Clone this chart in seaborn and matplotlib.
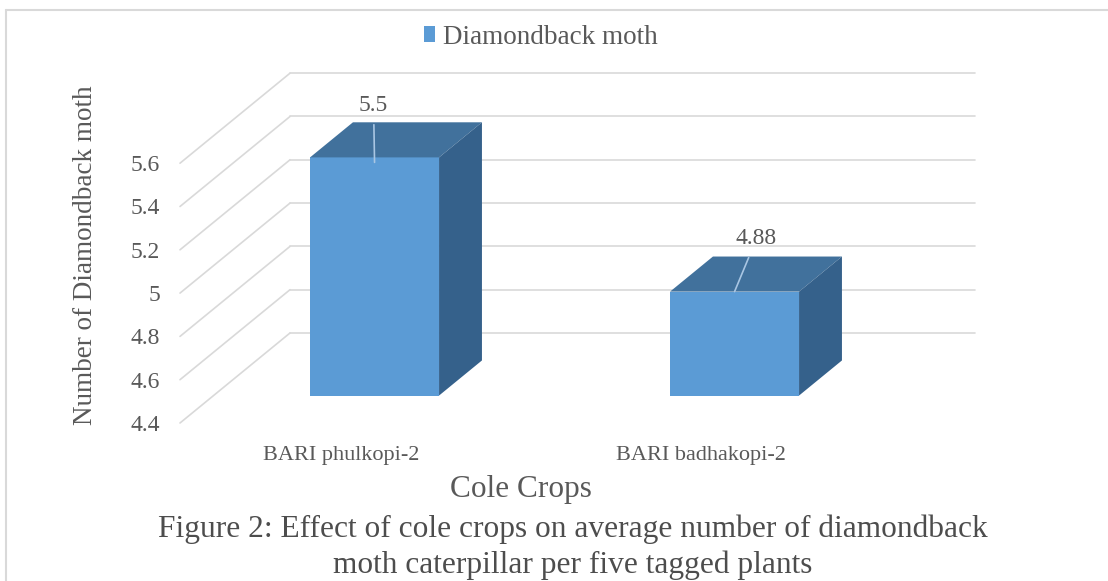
import numpy as np
import pandas as pd
import matplotlib
matplotlib.use("Agg")
import matplotlib.pyplot as plt
import matplotlib.transforms as mtransforms
from matplotlib.patches import Polygon, Patch
from matplotlib.lines import Line2D
import seaborn as sns

# ---------------- data ----------------
crops = ["BARI phulkopi-2", "BARI badhakopi-2"]
moth = [5.5, 4.88]
value_labels = ["5.5", "4.88"]
yticks = [4.4, 4.6, 4.8, 5.0, 5.2, 5.4, 5.6]
ytick_labels = ["4.4", "4.6", "4.8", "5", "5.2", "5.4", "5.6"]
series_name = "Diamondback moth"
xlabel = "Cole Crops"
ylabel = "Number of Diamondback moth"
caption = ("Figure 2: Effect of cole crops on average number of diamondback\n"
           "moth caterpillar per five tagged plants")

# ---------------- style ----------------
sns.set_theme(style="white")
plt.rcParams["font.family"] = ["Liberation Serif", "DejaVu Serif"]
TXT = "#595959"
FRONT = "#5B9BD5"
TOP = "#41719C"
SIDE = "#35618B"
GRID = "#d9d9d9"

W, H = 1108, 581
fig = plt.figure(figsize=(W / 100, H / 100), dpi=100)
fig.patch.set_facecolor("white")

# axes box in pixels (front plane of the pseudo-3D chart)
px_left, px_right, px_bottom, px_top = 180, 975, 423, 74
ax = fig.add_axes([px_left / W, 1 - px_bottom / H,
                   (px_right - px_left) / W, (px_bottom - px_top) / H])

floor = yticks[0]
px_per_cat = 360.0
px_per_val = 43.3 / 0.2
cat0_px = 341
xlim = ((px_left - cat0_px) / px_per_cat, (px_right - cat0_px) / px_per_cat)
ylim = (floor, floor + (px_bottom - px_top) / px_per_val)
DX = 110 / px_per_cat      # full depth in x-data units
DY = 90 / px_per_val       # full depth in y-data units
f_front = 0.305            # depth fraction of bar front face
f_depth = 0.39             # bar depth fraction
bar_w = 129 / px_per_cat

df = pd.DataFrame({"crop": crops, "moth": moth})
df["height"] = df["moth"] - floor

sns.barplot(data=df, x="crop", y="height", bottom=floor, width=bar_w,
            color=FRONT, saturation=1, ax=ax, zorder=3, linewidth=0)

ax.set_xlim(*xlim)
ax.set_ylim(*ylim)

# walls / gridlines
x0 = xlim[0]
for t in yticks:
    ax.plot([x0, x0 + DX], [t, t + DY], color=GRID, lw=1.2, zorder=1, clip_on=False)
    ax.plot([x0 + DX, xlim[1]], [t + DY, t + DY], color=GRID, lw=1.2, zorder=1, clip_on=False)

# pseudo-3D bars
shift = mtransforms.Affine2D().translate(f_front * DX, f_front * DY) + ax.transData
ddx, ddy = f_depth * DX, f_depth * DY
label_offsets = [(-1, 52), (22, 53)]      # pixels from top-front edge
leader_sink = [5 / px_per_val, 0.0]       # leader goes slightly into bar face
for i, p in enumerate(list(ax.patches)):
    p.set_transform(shift)
    p.set_clip_on(False)
    bx, bw = p.get_x(), p.get_width()
    by0, by1 = p.get_y(), p.get_y() + p.get_height()
    top = Polygon([(bx, by1), (bx + bw, by1), (bx + bw + ddx, by1 + ddy), (bx + ddx, by1 + ddy)],
                  closed=True, facecolor=TOP, edgecolor="none", transform=shift, zorder=3, clip_on=False)
    side = Polygon([(bx + bw, by0), (bx + bw + ddx, by0 + ddy), (bx + bw + ddx, by1 + ddy), (bx + bw, by1)],
                   closed=True, facecolor=SIDE, edgecolor="none", transform=shift, zorder=3, clip_on=False)
    ax.add_patch(top)
    ax.add_patch(side)
    cx = bx + bw / 2
    ox, oy = label_offsets[i]
    ax.annotate(value_labels[i], xy=(cx, by1 - leader_sink[i]), xycoords=shift,
                xytext=(ox, oy + leader_sink[i] * px_per_val), textcoords="offset pixels",
                ha="center", va="center", fontsize=17, color=TXT, zorder=5,
                arrowprops=dict(arrowstyle="-", color="#a9c6e3", lw=1.2,
                                shrinkA=4, shrinkB=0))

# axes styling
for s in ax.spines.values():
    s.set_visible(False)
ax.grid(False)
ax.set_yticks(yticks, ytick_labels)
ax.set_xticks(range(len(crops)), crops)
ax.tick_params(axis="y", length=0, pad=14.4, labelsize=17, labelcolor=TXT)
ax.tick_params(axis="x", length=0, pad=16.5, labelsize=16, labelcolor=TXT)
ax.set_xlabel(xlabel, fontsize=22.5, color=TXT)
ax.set_ylabel(ylabel, fontsize=19.5, color=TXT)
ax.xaxis.set_label_coords((521 - px_left) / (px_right - px_left),
                          (px_bottom - 489) / (px_bottom - px_top))
ax.xaxis.label.set_va("center")
ax.yaxis.set_label_coords((86 - px_left) / (px_right - px_left),
                          (px_bottom - 255) / (px_bottom - px_top))
ax.yaxis.label.set_va("center")
ax.patch.set_alpha(0)

# legend
handle = Patch(facecolor=FRONT, edgecolor="none")
fig.legend([handle], [series_name], loc="center", bbox_to_anchor=(541 / W, 1 - 37 / H),
           frameon=False, fontsize=19.5, labelcolor=TXT, handlelength=0.42,
           handleheight=0.5, handletextpad=0.3)

# caption
fig.text(573 / W, 1 - 547 / H, caption, ha="center", va="center",
         fontsize=22.6, color="#4d4d4d", linespacing=1.3)

# chart border
fig.add_artist(Line2D([6 / W, 6 / W], [0, 1 - 10 / H], color=GRID, lw=1.5))
fig.add_artist(Line2D([6 / W, 1], [1 - 10 / H, 1 - 10 / H], color=GRID, lw=1.5))

fig.savefig("out.png", dpi=100, facecolor="white")
